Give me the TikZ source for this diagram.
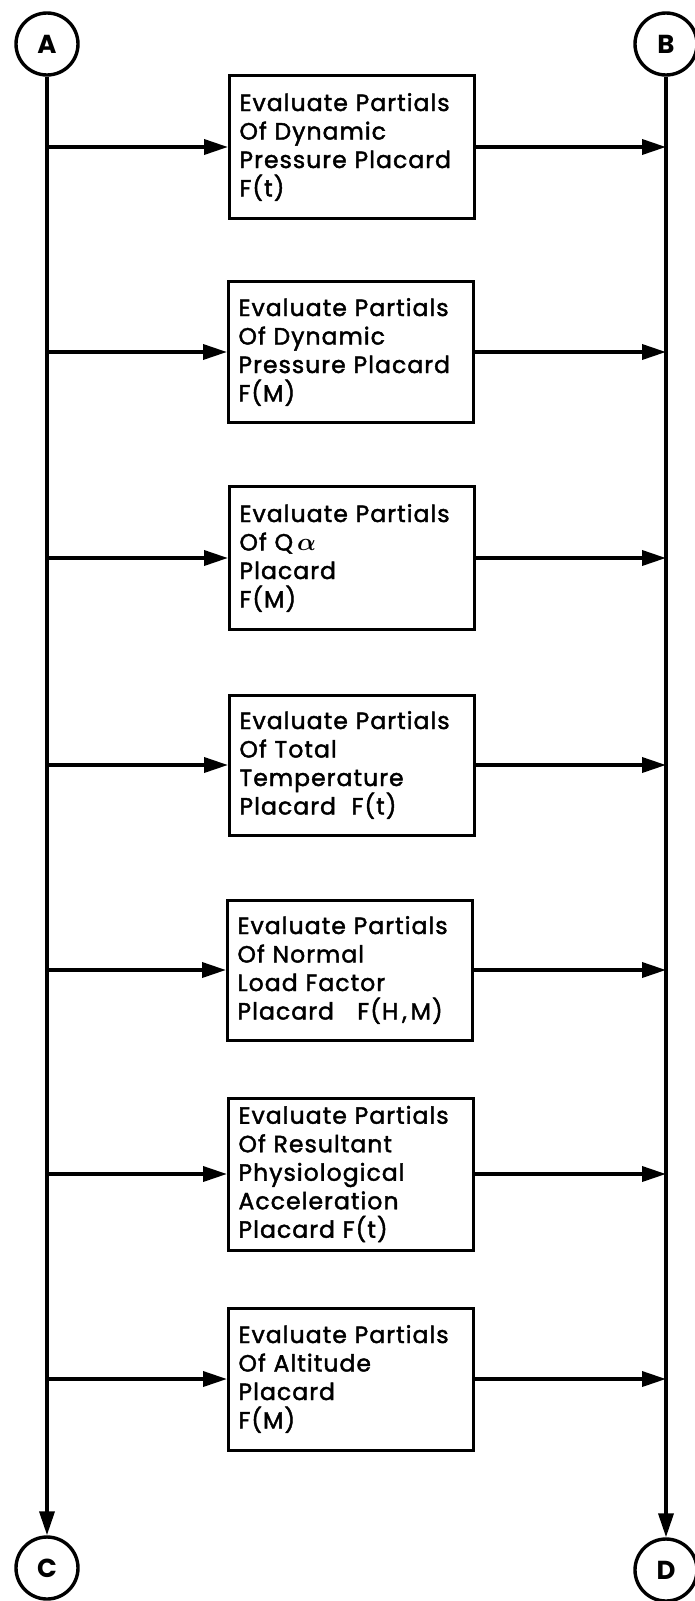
\documentclass[tikz,border=0pt]{standalone}
\usepackage{amsmath}
\usepackage{fontspec}
\setmainfont{Poppins}
\newfontfamily\boxfont{Poppins}[FakeBold=1.8, LetterSpace=4.5]
\usetikzlibrary{arrows.meta}

\begin{document}
\begin{tikzpicture}[
        x=1pt, y=-1pt,
        every node/.style={font=\fontsize{23.5}{28.5}\boxfont},
        conn/.style={circle, draw, line width=3.4pt, minimum size=62pt, inner sep=0pt,
          font=\fontsize{26}{26}\selectfont\bfseries},
        evalbox/.style={draw, line width=3pt, text width=225pt, inner xsep=10pt,
          align=left, minimum height=142pt},
        flow/.style={line width=3.6pt, -{Triangle[length=24pt,width=15pt]}}
      ]
      \useasboundingbox (0,0) rectangle (694,1601);
      % connector circles
      \node (A) [conn] at (47,44) {A};
      \node (B) [conn] at (666,44) {B};
      \node (C) [conn] at (47,1568) {C};
      \node (D) [conn] at (666,1570) {D};
      % evaluation boxes
      \node (b1) [evalbox, minimum height=143pt] at (352,147)
        {Evaluate Partials\\Of Dynamic\\Pressure Placard\\F(t)};
      \node (b2) [evalbox, minimum height=141pt] at (351,352)
        {Evaluate Partials\\Of Dynamic\\Pressure Placard\\F(M)};
      \node (b3) [evalbox, minimum height=143pt] at (352,558)
        {Evaluate Partials\\Of Q\,$\boldsymbol{\alpha}$\\Placard\\F(M)};
      \node (b4) [evalbox, minimum height=140pt] at (352,765)
        {Evaluate Partials\\Of Total\\Temperature\\Placard~~F(t)};
      \node (b5) [evalbox, minimum height=140pt] at (350,970)
        {Evaluate Partials\\Of Normal\\Load Factor\\Placard~~~F(H\,,\,M)};
      \node (b6) [evalbox, minimum height=152pt] at (351,1174)
        {Evaluate Partials\\Of Resultant\\Physiological\\Acceleration\\Placard F(t)};
      \node (b7) [evalbox, minimum height=142pt] at (351,1379)
        {Evaluate Partials\\Of Altitude\\Placard\\F(M)};
      % buses
      \draw[flow] (A) -- (C);
      \draw[flow] (B) -- (D);
      \foreach \b in {b1,b2,b3,b4,b5,b6,b7} {
        \draw[flow] (A |- \b) -- (\b);
        \draw[flow] (\b) -- (B |- \b);
      }
\end{tikzpicture}
\end{document}
